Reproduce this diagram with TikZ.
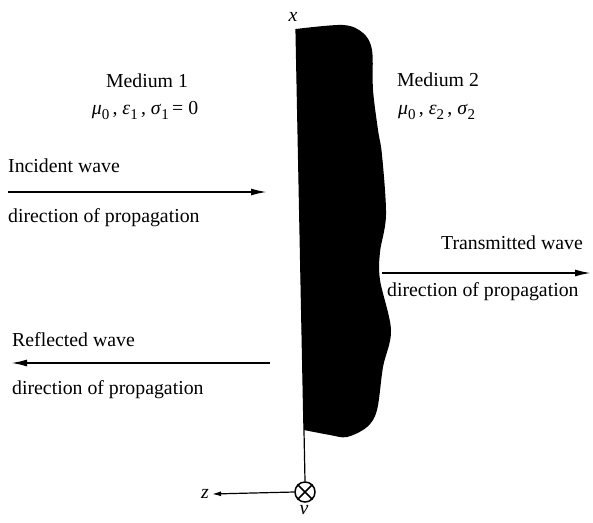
\documentclass[tikz,border=0pt]{standalone}
\usepackage{fontspec}
\setmainfont{Liberation Serif}
\usetikzlibrary{arrows.meta}
\newcommand{\gsub}[2]{\textit{#1}\raisebox{-0.5ex}{\fontsize{15}{15}\selectfont #2}}
\begin{document}
\begin{tikzpicture}[x=1pt,y=-1pt,
  lbl/.style={font=\fontsize{19.8}{22}\selectfont, inner sep=0pt, text height=13pt, text depth=4pt},
  wave/.style={line width=1.8pt, -{Latex[length=16pt,width=7pt]}},
  thin/.style={line width=1.2pt}]
\useasboundingbox[fill=white] (0,0) rectangle (593,522);
% conductor body
\fill[black] plot[smooth, tension=0.55] coordinates {(296,29) (343,25) (363,33) (372,50) (373,90) (378,130) (382,155) (386,215) (380,252) (380,280) (391,330) (383,367) (377,410) (367,427) (347,437) (330,435) (304,430)} -- cycle;
% axes
\node[lbl, font=\fontsize{19.8}{22}\selectfont\itshape] (xl) at (293,17) {x};
\coordinate (top) at (296,29);
\node[circle, draw, line width=1.5pt, minimum size=20pt, inner sep=0pt] (v) at (305,492) {};
\draw[line width=1.5pt] (v.north west) -- (v.south east) (v.north east) -- (v.south west);
\draw[thin] (top) -- (v.north);
\node[lbl, font=\fontsize{19.8}{22}\selectfont\itshape, inner sep=3pt] (zl) at (205,494) {z};
\draw[thin, -{Latex[length=9pt,width=5pt]}] (v.west) -- (zl.east);
\node[font=\fontsize{19.8}{22}\selectfont\itshape, inner sep=0pt, text height=9pt, text depth=0pt] (nl) at (304,510) {ν};
% media
\node[lbl] (m1) at (147,83) {Medium 1};
\node[lbl] (m1p) at (145,110) {\gsub{μ}{0}\,, \gsub{ε}{1}\,, \gsub{σ}{1}\,= 0};
\node[lbl] (m2) at (438,82) {Medium 2};
\node[lbl, anchor=west] (m2p) at (398,110) {\gsub{μ}{0}\,, \gsub{ε}{2}\,, \gsub{σ}{2}};
% incident
\node[lbl, anchor=west] (inc) at (8,168) {Incident wave};
\node[lbl, anchor=west] (incd) at (8,218) {direction of propagation};
\coordinate (ia) at (8,192);
\coordinate (ib) at (267,192);
\draw[wave] (ia) -- (ib);
% transmitted
\node[lbl, anchor=east] (tr) at (583,245) {Transmitted wave};
\node[lbl, anchor=west] (trd) at (387,292) {direction of propagation};
\coordinate (ta) at (382,273);
\coordinate (tb) at (591,273);
\draw[wave] (ta) -- (tb);
% reflected
\node[lbl, anchor=west] (rf) at (12,342) {Reflected wave};
\node[lbl, anchor=west] (rfd) at (12,390) {direction of propagation};
\coordinate (ra) at (270,363);
\coordinate (rb) at (11,363);
\draw[wave] (ra) -- (rb);
\end{tikzpicture}
\end{document}
